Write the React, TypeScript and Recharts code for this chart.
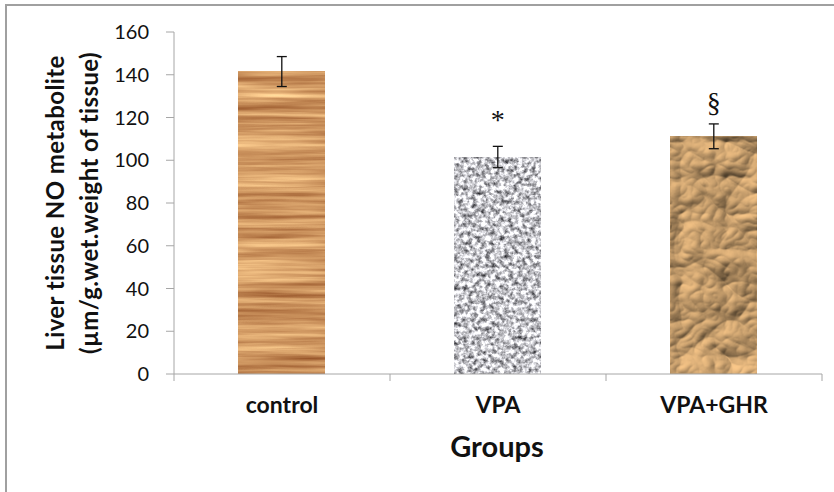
import { BarChart, Bar, XAxis, YAxis, ErrorBar, LabelList } from "recharts";

const groups = ["control", "VPA", "VPA+GHR"];
const meanNO = [141.5, 101.5, 111.2];
const semNO = [7, 5, 5.8];
const marks = ["", "*", "§"];
const yTicks = [0, 20, 40, 60, 80, 100, 120, 140, 160];

const textures = ["wood", "granite", "paper"];
const axisColor = "#a6a6a6";
const font = "Lato, 'Open Sans', sans-serif";
// glyph baseline gap above the error bar cap
const markGap: Record<string, number> = { "*": 17, "§": 12 };

const data = groups.map((g, i) => ({ group: g, no: meanNO[i], err: semNO[i], mark: marks[i] }));

const TexturedBar = (props: any) => {
  const { x, y, width, height, index } = props;
  return (
    <rect x={x} y={y} width={width} height={height} fill="#c9a06e" filter={`url(#${textures[index]})`} />
  );
};

const GroupTick = (props: any) => {
  const { x, y, payload, index } = props;
  const half = payload?.offset ?? 108;
  return (
    <g>
      {index === 0 && <line x1={x - half} y1={y} x2={x - half} y2={y + 7} stroke={axisColor} />}
      <line x1={x + half} y1={y} x2={x + half} y2={y + 7} stroke={axisColor} />
      <text x={x} y={y + 39} textAnchor="middle" fontFamily={font} fontWeight={700} fontSize={23} fill="#111">
        {payload.value}
      </text>
    </g>
  );
};

const MarkLabel = (props: any) => {
  const { x, y, width, height, value, index } = props;
  if (!value) return null;
  const errTop = y - (semNO[index] * height) / meanNO[index];
  return (
    <text x={x + width / 2} y={errTop - (markGap[value] ?? 15)} textAnchor="middle" fontFamily="'Liberation Serif', serif" fontSize={28} fill="#111">
      {value}
    </text>
  );
};

const YTitle = () => (
  <g fontFamily={font} fontWeight={700} fontSize={24} fill="#111" textAnchor="middle" letterSpacing={0.4}>
    <text x={54} y={203} transform="rotate(-90 54 203)" dominantBaseline="central">Liver tissue NO metabolite</text>
    <text x={88} y={203} transform="rotate(-90 88 203)" dominantBaseline="central">(µm/g.wet.weight of tissue)</text>
  </g>
);

const XTitle = () => (
  <text x={497} y={457} textAnchor="middle" fontFamily={font} fontWeight={700} fontSize={29} fill="#111">
    Groups
  </text>
);

export default function App() {
  return (
    <div style={{ position: "absolute", left: 0, top: 0, width: 834, height: 492, overflow: "hidden", background: "#fff" }}>
      <div style={{ position: "absolute", left: 5, top: 4, width: 850, height: 520, border: "2px solid #a0a0a0", boxSizing: "border-box" }} />
      <div style={{ position: "absolute", left: 0, top: 0 }}>
        <BarChart width={834} height={492} data={data} margin={{ top: 32, right: 12, bottom: 88, left: 0 }} barCategoryGap="30%">
          <defs>
            <filter id="wood" x="0" y="0" width="1" height="1" colorInterpolationFilters="sRGB">
              <feTurbulence type="fractalNoise" baseFrequency="0.006 0.16" numOctaves={4} seed={4} />
              <feColorMatrix
                type="matrix"
                values="0.55 0 0 0 0.53  0.65 0 0 0 0.26  0.55 0 0 0 0.1  0 0 0 0 1"
              />
            </filter>
            <filter id="granite" x="0" y="0" width="1" height="1" colorInterpolationFilters="sRGB">
              <feTurbulence type="fractalNoise" baseFrequency="0.22" numOctaves={3} seed={7} />
              <feColorMatrix
                type="matrix"
                values="1.5 0 0 0 0.02  1.5 0 0 0 0.02  1.5 0 0 0 0.04  0 0 0 0 1"
              />
            </filter>
            <filter id="paper" x="0" y="0" width="1" height="1" colorInterpolationFilters="sRGB">
              <feTurbulence type="turbulence" baseFrequency="0.011 0.014" numOctaves={4} seed={11} result="noise" />
              <feDiffuseLighting in="noise" surfaceScale={7} diffuseConstant={1.1} lightingColor="#e8b97f">
                <feDistantLight azimuth={235} elevation={48} />
              </feDiffuseLighting>
            </filter>
          </defs>
          <XAxis
            dataKey="group"
            stroke={axisColor}
            tickSize={0}
            tickMargin={0}
            tick={<GroupTick />}
            interval={0}
            label={<XTitle />}
          />
          <YAxis
            domain={[0, 160]}
            ticks={yTicks}
            width={174}
            stroke={axisColor}
            tickSize={8}
            tickMargin={17}
            tick={{ fill: "#111", fontSize: 20, fontFamily: font }}
            label={<YTitle />}
          />
          <Bar dataKey="no" shape={<TexturedBar />} isAnimationActive={false}>
            <ErrorBar dataKey="err" width={5} stroke="#111" strokeWidth={1.3} direction="y" />
            <LabelList dataKey="mark" content={<MarkLabel />} />
          </Bar>
        </BarChart>
      </div>
    </div>
  );
}
